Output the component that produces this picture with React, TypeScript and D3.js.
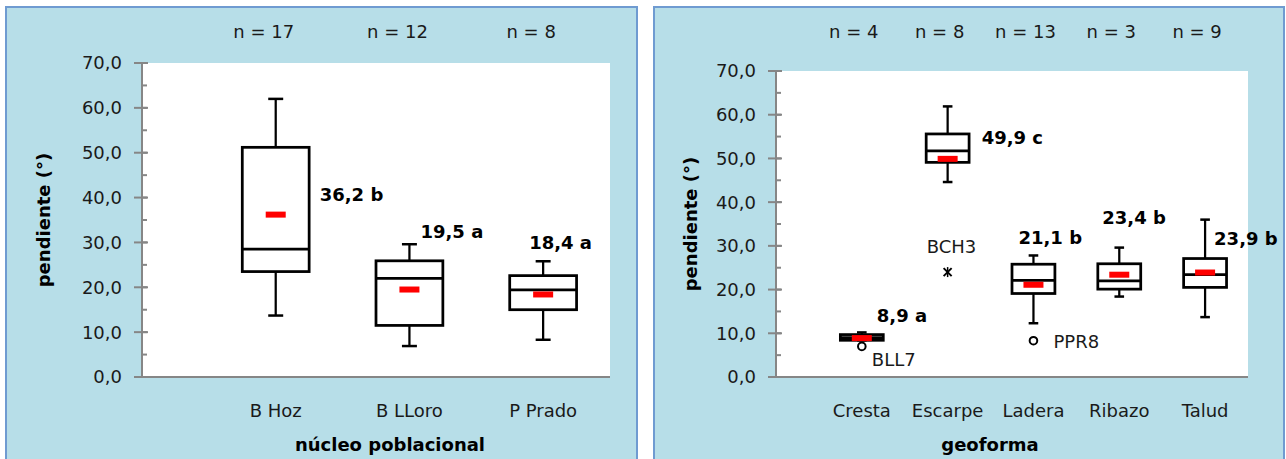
import { scaleLinear, range } from 'd3'

// --- núcleo poblacional ---
const nucleos = ['B Hoz', 'B LLoro', 'P Prado']
const nucleoN = [17, 12, 8]
const nucleoMin = [13.7, 6.9, 8.3]
const nucleoQ1 = [23.5, 11.5, 15.0]
const nucleoMed = [28.5, 22.0, 19.4]
const nucleoQ3 = [51.2, 25.9, 22.6]
const nucleoMax = [62.0, 29.6, 25.8]
const nucleoMean = [36.2, 19.5, 18.4]
const nucleoLetter = ['b', 'a', 'a']

// --- geoforma ---
const geoformas = ['Cresta', 'Escarpe', 'Ladera', 'Ribazo', 'Talud']
const geoN = [4, 8, 13, 3, 9]
const geoMin = [8.4, 44.6, 12.3, 18.4, 13.7]
const geoQ1 = [8.4, 49.1, 19.1, 20.1, 20.5]
const geoMed = [9.0, 51.7, 22.1, 22.0, 23.4]
const geoQ3 = [9.7, 55.6, 25.8, 25.9, 27.1]
const geoMax = [10.2, 61.9, 27.8, 29.6, 36.0]
const geoMean = [8.9, 49.9, 21.1, 23.4, 23.9]
const geoLetter = ['a', 'c', 'b', 'b', 'b']

// atípicos
const outlierCat = ['Cresta', 'Escarpe', 'Ladera']
const outlierValue = [7.0, 24.0, 8.3]
const outlierName = ['BLL7', 'BCH3', 'PPR8']
const outlierKind = ['circle', 'star', 'circle']

const yTicks = [0, 10, 20, 30, 40, 50, 60, 70]

// colocación manual de las etiquetas (como en el original)
const nucleoLabelDx = [44, 11, -14]
const nucleoLabelAt = [39.3, 31.0, 28.5]
const geoLabelDx = [15, 34, -15, -17, 9]
const geoLabelAt = [12.6, 53.2, 30.5, 35.1, 30.1]
const outlierLabelDx = [10, -21, 20]
const outlierLabelDy = [20, -19, 7]

const FONT = '"DejaVu Sans", sans-serif'
const AXIS = '#868686'
const TXT = '#1a1a1a'

const fmt = (v: number) => v.toFixed(1).replace('.', ',')

interface PanelProps {
	left: number
	right: number
	plot: { x0: number; x1: number; y0: number; y1: number }
	cats: string[]
	n: number[]
	min: number[]
	q1: number[]
	med: number[]
	q3: number[]
	max: number[]
	mean: number[]
	letter: string[]
	labelDx: number[]
	labelAt: number[]
	nShift: number
	xTitle: string
	xTitleX: number
	yTitleX: number
	outliers?: boolean
}

function BoxPanel(p: PanelProps) {
	const x = scaleLinear()
		.domain([0, p.cats.length + 0.5])
		.range([p.plot.x0, p.plot.x1])
	const y = scaleLinear().domain([0, 70]).range([p.plot.y1, p.plot.y0])
	const unit = x(1) - x(0)
	const boxHalf = unit * 0.25
	const capHalf = unit * 0.056

	return (
		<g>
			<rect
				x={p.left}
				y={7}
				width={p.right - p.left}
				height={470}
				fill='#b7dee8'
				stroke='#6f9bd1'
				strokeWidth={2}
			/>
			<rect
				x={p.plot.x0}
				y={p.plot.y0}
				width={p.plot.x1 - p.plot.x0}
				height={p.plot.y1 - p.plot.y0}
				fill='#fff'
			/>

			{/* eje Y */}
			{range(0, 70, 5).map((v) => (
				<line
					key={'m' + v}
					x1={p.plot.x0}
					x2={p.plot.x0 + 5}
					y1={y(v + 5)}
					y2={y(v + 5)}
					stroke={AXIS}
					strokeWidth={2}
				/>
			))}
			{yTicks.map((v) => (
				<g key={v}>
					<line
						x1={p.plot.x0 - 8}
						x2={p.plot.x0 + 6}
						y1={y(v)}
						y2={y(v)}
						stroke={AXIS}
						strokeWidth={2}
					/>
					<text
						x={p.plot.x0 - 20}
						y={y(v)}
						dy='0.36em'
						textAnchor='end'
						fontSize={18}
						fill={TXT}
					>
						{fmt(v)}
					</text>
				</g>
			))}
			<line
				x1={p.plot.x0}
				x2={p.plot.x0}
				y1={p.plot.y0}
				y2={p.plot.y1}
				stroke={AXIS}
				strokeWidth={2}
			/>
			<line
				x1={p.plot.x0 - 8}
				x2={p.plot.x1}
				y1={p.plot.y1}
				y2={p.plot.y1}
				stroke={AXIS}
				strokeWidth={2}
			/>

			{/* cajas */}
			{p.cats.map((c, i) => {
				const cx = x(i + 1)
				return (
					<g key={c} stroke='#000' fill='none'>
						<line x1={cx} x2={cx} y1={y(p.max[i])} y2={y(p.q3[i])} strokeWidth={2.25} />
						<line x1={cx} x2={cx} y1={y(p.q1[i])} y2={y(p.min[i])} strokeWidth={2.25} />
						<line x1={cx - capHalf} x2={cx + capHalf} y1={y(p.max[i])} y2={y(p.max[i])} strokeWidth={2.5} />
						<line x1={cx - capHalf} x2={cx + capHalf} y1={y(p.min[i])} y2={y(p.min[i])} strokeWidth={2.5} />
						<rect
							x={cx - boxHalf}
							y={y(p.q3[i])}
							width={boxHalf * 2}
							height={y(p.q1[i]) - y(p.q3[i])}
							strokeWidth={2.75}
						/>
						<line x1={cx - boxHalf} x2={cx + boxHalf} y1={y(p.med[i])} y2={y(p.med[i])} strokeWidth={2.75} />
						<rect x={cx - 10} y={y(p.mean[i]) - 3} width={20} height={6} fill='#ff0000' stroke='none' />
						<text
							x={cx + p.labelDx[i]}
							y={y(p.labelAt[i])}
							fontSize={18}
							fontWeight='bold'
							fill='#000'
							stroke='none'
						>
							{fmt(p.mean[i])} {p.letter[i]}
						</text>
						<text
							x={cx + p.nShift}
							y={38}
							textAnchor='middle'
							fontSize={18}
							fill={TXT}
							stroke='none'
						>
							n = {p.n[i]}
						</text>
						<text
							x={cx}
							y={417}
							textAnchor='middle'
							fontSize={18}
							fill={TXT}
							stroke='none'
						>
							{c}
						</text>
					</g>
				)
			})}

			{p.outliers &&
				outlierCat.map((c, k) => {
					const ox = x(p.cats.indexOf(c) + 1)
					const oy = y(outlierValue[k])
					return (
						<g key={outlierName[k]}>
							{outlierKind[k] === 'circle' ? (
								<circle cx={ox} cy={oy} r={3.8} fill='#fff' stroke='#000' strokeWidth={2} />
							) : (
								<g stroke='#000' strokeWidth={2}>
									<line x1={ox - 4} x2={ox + 4} y1={oy - 4} y2={oy + 4} />
									<line x1={ox - 4} x2={ox + 4} y1={oy + 4} y2={oy - 4} />
									<line x1={ox} x2={ox} y1={oy - 5} y2={oy + 5} strokeWidth={1.5} />
								</g>
							)}
							<text
								x={ox + outlierLabelDx[k]}
								y={oy + outlierLabelDy[k]}
								fontSize={18}
								fill={TXT}
							>
								{outlierName[k]}
							</text>
						</g>
					)
				})}

			<text
				x={p.xTitleX}
				y={451}
				textAnchor='middle'
				fontSize={18}
				fontWeight='bold'
				fill='#000'
			>
				{p.xTitle}
			</text>
			<text
				transform={`translate(${p.yTitleX},${(p.plot.y0 + p.plot.y1) / 2}) rotate(-90)`}
				textAnchor='middle'
				fontSize={18}
				fontWeight='bold'
				fill='#000'
			>
				pendiente (°)
			</text>
		</g>
	)
}

export default function App() {
	return (
		<svg
			width={1286}
			height={459}
			style={{ position: 'absolute', left: 0, top: 0, display: 'block', background: '#fff' }}
			fontFamily={FONT}
		>
			<BoxPanel
				left={6}
				right={637}
				plot={{ x0: 142, x1: 610, y0: 63, y1: 377 }}
				cats={nucleos}
				n={nucleoN}
				min={nucleoMin}
				q1={nucleoQ1}
				med={nucleoMed}
				q3={nucleoQ3}
				max={nucleoMax}
				mean={nucleoMean}
				letter={nucleoLetter}
				labelDx={nucleoLabelDx}
				labelAt={nucleoLabelAt}
				nShift={-12}
				xTitle='núcleo poblacional'
				xTitleX={390}
				yTitleX={50}
			/>
			<BoxPanel
				left={654}
				right={1284}
				plot={{ x0: 776, x1: 1248, y0: 71, y1: 377 }}
				cats={geoformas}
				n={geoN}
				min={geoMin}
				q1={geoQ1}
				med={geoMed}
				q3={geoQ3}
				max={geoMax}
				mean={geoMean}
				letter={geoLetter}
				labelDx={geoLabelDx}
				labelAt={geoLabelAt}
				nShift={-8}
				xTitle='geoforma'
				xTitleX={990}
				yTitleX={697}
				outliers
			/>
		</svg>
	)
}
